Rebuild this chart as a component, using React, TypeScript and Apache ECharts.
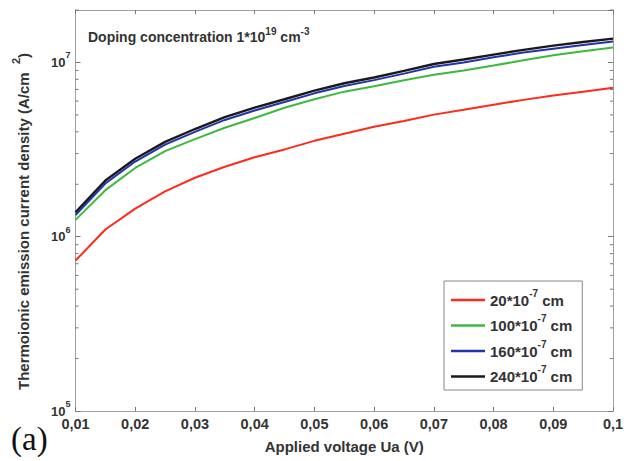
import React, { useEffect, useRef } from "react";
import * as echarts from "echarts";

const voltages = [0.01, 0.015, 0.02, 0.025, 0.03, 0.035, 0.04, 0.045, 0.05, 0.055, 0.06, 0.065, 0.07, 0.075, 0.08, 0.085, 0.09, 0.095, 0.1];
const seriesNames = ["20*10^-7 cm", "100*10^-7 cm", "160*10^-7 cm", "240*10^-7 cm"];
const seriesColors = ["#ff2a1a", "#3cba3c", "#2233a8", "#1a1a1a"];
const red20 = [7.3e5, 1.1e6, 1.45e6, 1.82e6, 2.18e6, 2.52e6, 2.86e6, 3.17e6, 3.55e6, 3.9e6, 4.28e6, 4.62e6, 5.02e6, 5.35e6, 5.72e6, 6.1e6, 6.46e6, 6.8e6, 7.16e6];
const green100 = [1.25e6, 1.85e6, 2.48e6, 3.1e6, 3.63e6, 4.22e6, 4.8e6, 5.5e6, 6.15e6, 6.8e6, 7.3e6, 7.9e6, 8.5e6, 9.0e6, 9.6e6, 1.03e7, 1.1e7, 1.16e7, 1.22e7];
const blue160 = [1.33e6, 2.02e6, 2.7e6, 3.38e6, 4.0e6, 4.68e6, 5.3e6, 5.93e6, 6.65e6, 7.33e6, 7.92e6, 8.63e6, 9.45e6, 1.0e7, 1.07e7, 1.14e7, 1.2e7, 1.26e7, 1.32e7];
const black240 = [1.38e6, 2.1e6, 2.8e6, 3.5e6, 4.15e6, 4.85e6, 5.5e6, 6.15e6, 6.9e6, 7.6e6, 8.2e6, 8.95e6, 9.8e6, 1.04e7, 1.11e7, 1.18e7, 1.25e7, 1.31e7, 1.37e7];
const xTickLabels = ["0,01", "0,02", "0,03", "0,04", "0,05", "0,06", "0,07", "0,08", "0,09", "0,1"];
const minorTicks = [2e5, 3e5, 4e5, 5e5, 6e5, 7e5, 8e5, 9e5, 2e6, 3e6, 4e6, 5e6, 6e6, 7e6, 8e6, 9e6, 2e7];

const X_MIN = 0.01;
const X_MAX = 0.1;
const Y_MIN = 1e5;
const Y_MAX = 2e7;

const AXIS_COLOR = "#a0a0a0";
const TEXT_COLOR = "#333333";
const FONT = "'Liberation Sans', Arial, sans-serif";

export default function App() {
  const ref = useRef<HTMLDivElement>(null);
  useEffect(() => {
    if (!ref.current) return;
    const chart = echarts.init(ref.current, undefined, { renderer: "svg" });
    const allData = [red20, green100, blue160, black240];
    const legendLabel = (name: string) => {
      const base = name.split("*")[0];
      return base + "*10{sup|-7} cm";
    };
    const xLabel = (v: number) => {
      const idx = Math.round((v - X_MIN) / 0.01);
      return xTickLabels[idx] ?? "";
    };
    const yLabel = (v: number) => {
      const e = Math.round(Math.log10(v));
      if (Math.abs(Math.pow(10, e) - v) / v > 1e-6) return "";
      return "10{sup|" + e + "}";
    };
    const option: any = {
      animation: false,
      backgroundColor: "#ffffff",
      textStyle: { fontFamily: FONT },
      grid: { left: 75.5, right: 16, top: 10, bottom: 50, containLabel: false },
      xAxis: [
        {
          type: "value",
          min: X_MIN,
          max: X_MAX,
          interval: 0.01,
          position: "bottom",
          name: "Applied voltage Ua (V)",
          nameLocation: "middle",
          nameGap: 28,
          nameTextStyle: { fontSize: 15, fontWeight: "bold", color: TEXT_COLOR, fontFamily: FONT },
          axisLine: { show: true, lineStyle: { color: AXIS_COLOR, width: 1 } },
          axisTick: { show: true, inside: true, length: 4, lineStyle: { color: "#777" } },
          axisLabel: {
            formatter: xLabel,
            fontSize: 14.5,
            fontWeight: "bold",
            color: TEXT_COLOR,
            margin: 5,
            fontFamily: FONT,
          },
          splitLine: { show: false },
        },
        {
          type: "value",
          min: X_MIN,
          max: X_MAX,
          interval: 0.01,
          position: "top",
          axisLine: { show: true, lineStyle: { color: AXIS_COLOR, width: 1 } },
          axisTick: { show: true, inside: true, length: 4, lineStyle: { color: "#777" } },
          axisLabel: { show: false },
          splitLine: { show: false },
        },
      ],
      yAxis: [
        {
          type: "log",
          logBase: 10,
          min: Y_MIN,
          max: Y_MAX,
          position: "left",
          name: "Thermoionic emission current density (A/cm  {sup|2})",
          nameLocation: "middle",
          nameGap: 40,
          nameRotate: 90,
          nameTextStyle: {
            fontSize: 15,
            fontWeight: "bold",
            color: TEXT_COLOR,
            fontFamily: FONT,
            padding: [0, 22, 0, 0],
            rich: {
              sup: { fontSize: 11, fontWeight: "bold", color: TEXT_COLOR, padding: [0, 0, 14, 0], fontFamily: FONT },
            },
          },
          axisLine: { show: true, lineStyle: { color: AXIS_COLOR, width: 1 } },
          axisTick: { show: true, inside: true, length: 5, lineStyle: { color: "#777" } },
          axisLabel: {
            formatter: yLabel,
            showMaxLabel: false,
            margin: 5,
            color: TEXT_COLOR,
            fontFamily: FONT,
            rich: {
              sup: { fontSize: 9, fontWeight: "bold", color: TEXT_COLOR, padding: [0, 0, 14, 0], fontFamily: FONT },
            },
            fontSize: 13,
            fontWeight: "bold",
          },
          splitLine: { show: false },
        },
        {
          type: "log",
          logBase: 10,
          min: Y_MIN,
          max: Y_MAX,
          position: "right",
          axisLine: { show: true, lineStyle: { color: AXIS_COLOR, width: 1 } },
          axisTick: { show: true, inside: true, length: 5, lineStyle: { color: "#777" } },
          axisLabel: { show: false },
          splitLine: { show: false },
        },
      ],
      legend: {
        data: seriesNames,
        orient: "vertical",
        left: 444,
        top: 281,
        padding: [7, 10, 6, 7],
        icon: "rect",
        itemWidth: 34,
        itemHeight: 2.5,
        itemGap: 6,
        backgroundColor: "#ffffff",
        borderColor: "#888888",
        borderWidth: 1,
        formatter: legendLabel,
        textStyle: {
          fontSize: 15,
          fontWeight: "bold",
          color: TEXT_COLOR,
          fontFamily: FONT,
          rich: {
            sup: { fontSize: 10, fontWeight: "bold", color: TEXT_COLOR, padding: [0, 0, 14, 0], fontFamily: FONT },
          },
        },
      },
      graphic: [
        {
          type: "text",
          left: 88,
          top: 26,
          style: {
            text: "Doping concentration 1*10{sup|19} cm{sup|-3}",
            fontSize: 14,
            fontWeight: "bold",
            fill: TEXT_COLOR,
            fontFamily: FONT,
            rich: {
              sup: { fontSize: 10, fontWeight: "bold", fill: TEXT_COLOR, padding: [0, 0, 12, 0], fontFamily: FONT },
            },
          },
        },
        {
          type: "text",
          left: 11,
          top: 422,
          style: {
            text: "(a)",
            fontSize: 33,
            fill: "#111111",
            fontFamily: "'Liberation Serif', 'Times New Roman', serif",
          },
        },
      ],
      series: [
        ...seriesNames.map((name, i) => ({
          name,
          type: "line",
          xAxisIndex: 0,
          yAxisIndex: 0,
          data: voltages.map((v, j) => [v, allData[i][j]]),
          showSymbol: false,
          symbol: "none",
          smooth: false,
          lineStyle: { color: seriesColors[i], width: i === 3 ? 2.4 : 2 },
          itemStyle: { color: seriesColors[i] },
          z: 3 + (3 - i),
        })),
        {
          name: "minorTicks",
          type: "custom",
          xAxisIndex: 0,
          yAxisIndex: 0,
          silent: true,
          clip: false,
          data: minorTicks.map((v) => [X_MIN, v]),
          encode: { x: 0, y: 1 },
          renderItem: (params: any, api: any) => {
            const v = api.value(1);
            const l = api.coord([X_MIN, v]);
            const r = api.coord([X_MAX, v]);
            return {
              type: "group",
              children: [
                { type: "line", shape: { x1: l[0], y1: l[1], x2: l[0] + 3, y2: l[1] }, style: { stroke: "#777", lineWidth: 1 } },
                { type: "line", shape: { x1: r[0] - 3, y1: r[1], x2: r[0], y2: r[1] }, style: { stroke: "#777", lineWidth: 1 } },
              ],
            };
          },
        },
      ],
    };
    chart.setOption(option);
    return () => chart.dispose();
  }, []);
  return <div ref={ref} style={{ width: 629, height: 461, position: "absolute", left: 0, top: 0 }} />;
}
